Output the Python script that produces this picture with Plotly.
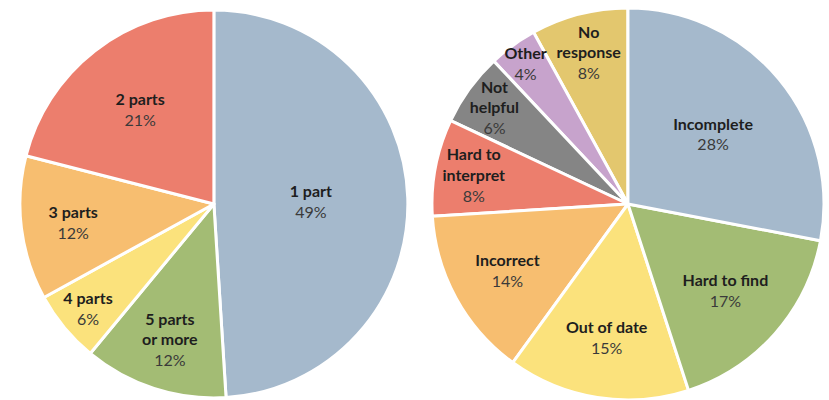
import plotly.graph_objects as go

# left pie: number of parts (clockwise from 12 o'clock)
parts_labels = ["1 part", "5 parts<br>or more", "4 parts", "3 parts", "2 parts"]
parts_values = [49, 12, 6, 12, 21]
parts_colors = ["#A5B9CC", "#A3BC74", "#FBE27C", "#F7BE70", "#EC7E6D"]

# right pie: problems (counterclockwise from 12 o'clock)
prob_labels = ["No<br>response", "Other", "Not<br>helpful", "Hard to<br>interpret",
               "Incorrect", "Out of date", "Hard to find", "Incomplete"]
prob_values = [8, 4, 6, 8, 14, 15, 17, 28]
prob_colors = ["#E3C76E", "#C7A3CC", "#858585", "#EC7E6D",
               "#F7BE70", "#FBE27C", "#A3BC74", "#A5B9CC"]

tmpl = "<b>%{label}</b><br><span style='color:#3a3a3a'>%{value}%</span>"

fig = go.Figure()
fig.add_trace(go.Pie(
    labels=parts_labels, values=parts_values, sort=False, direction="clockwise",
    marker=dict(colors=parts_colors, line=dict(color="white", width=3)),
    texttemplate=tmpl, textposition="inside", insidetextorientation="horizontal",
    textfont=dict(family="Lato", size=16, color="#1e1e1e"),
    domain=dict(x=[0.024, 0.492], y=[0.005, 0.975]),
    showlegend=False, hoverinfo="label+percent",
))
fig.add_trace(go.Pie(
    labels=prob_labels, values=prob_values, sort=False, direction="counterclockwise",
    rotation=-360 * prob_values[0] / sum(prob_values),
    marker=dict(colors=prob_colors, line=dict(color="white", width=3)),
    texttemplate=tmpl, textposition="inside", insidetextorientation="horizontal",
    textfont=dict(family="Lato", size=16, color="#1e1e1e"),
    domain=dict(x=[0.519, 0.996], y=[0.0, 0.98]),
    showlegend=False, hoverinfo="label+percent",
))

fig.update_layout(
    width=829, height=400,
    margin=dict(l=0, r=0, t=0, b=0),
    paper_bgcolor="white",
    uniformtext=dict(minsize=16, mode="show"),
)

fig.write_html("out.html", config={"displayModeBar": False},
               post_script="document.body.style.margin='0';")
